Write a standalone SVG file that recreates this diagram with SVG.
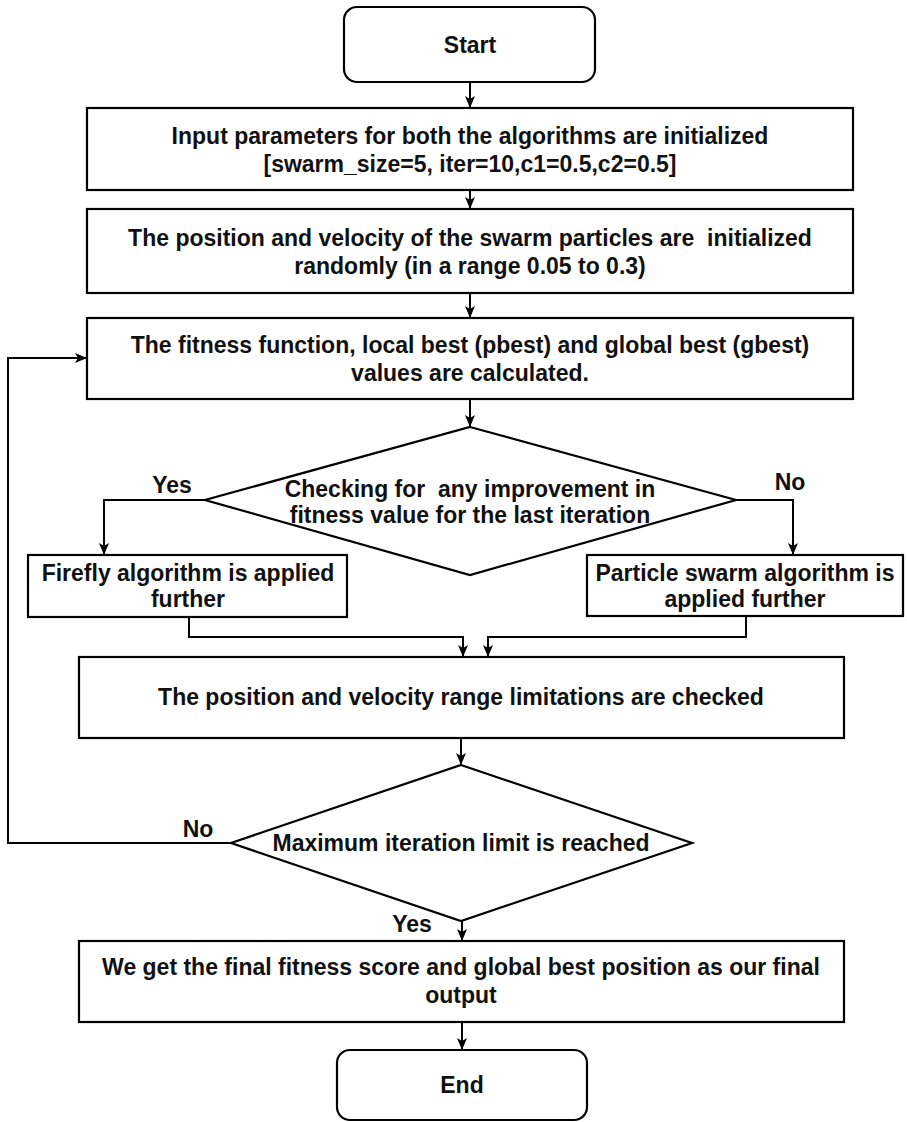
<svg xmlns="http://www.w3.org/2000/svg" width="907" height="1122" viewBox="0 0 907 1122">
<style>
.box{fill:#fff;stroke:#000;stroke-width:2.2}
.t{font-family:"Liberation Sans",Arial,sans-serif;font-weight:bold;font-size:23px;fill:#111;text-anchor:middle;white-space:pre}
.c{fill:none;stroke:#000;stroke-width:2}
</style>
<defs>
<marker id="ah" viewBox="0 0 12 10" refX="11" refY="5" markerWidth="12" markerHeight="10" markerUnits="userSpaceOnUse" orient="auto">
<path d="M0,0 L12,5 L0,10 L3,5 z" fill="#000"/>
</marker>
</defs>
<rect width="907" height="1122" fill="#fff"/>
<g id="connectors">
<path class="c" d="M470,82 V107" marker-end="url(#ah)"/>
<path class="c" d="M470,190 V208" marker-end="url(#ah)"/>
<path class="c" d="M470,293 V317" marker-end="url(#ah)"/>
<path class="c" d="M470,399 V426" marker-end="url(#ah)"/>
<path class="c" d="M205,500 H104 V554" marker-end="url(#ah)"/>
<path class="c" d="M736,500 H793 V554" marker-end="url(#ah)"/>
<path class="c" d="M189,617 V637 H463 V656" marker-end="url(#ah)"/>
<path class="c" d="M746,616 V637 H488 V656" marker-end="url(#ah)"/>
<path class="c" d="M461,738 V764" marker-end="url(#ah)"/>
<path class="c" d="M231,843 H8 V358 H86" marker-end="url(#ah)"/>
<path class="c" d="M462,921 V940" marker-end="url(#ah)"/>
<path class="c" d="M462,1022 V1049" marker-end="url(#ah)"/>
<text class="t" x="172" y="493">Yes</text>
<text class="t" x="790" y="490">No</text>
<text class="t" x="198" y="837">No</text>
<text class="t" x="412" y="932">Yes</text>
</g>
<g id="start">
<rect class="box" x="344" y="7" width="251" height="75" rx="13"/>
<text class="t" x="470" y="53">Start</text>
</g>
<g id="init-params">
<rect class="box" x="87" y="108" width="766" height="82"/>
<text class="t" x="470" y="144">Input parameters for both the algorithms are initialized</text>
<text class="t" x="470" y="172">[swarm_size=5, iter=10,c1=0.5,c2=0.5]</text>
</g>
<g id="init-position">
<rect class="box" x="87" y="209" width="766" height="84"/>
<text class="t" x="470" y="246" xml:space="preserve">The position and velocity of the swarm particles are  initialized</text>
<text class="t" x="470" y="274">randomly (in a range 0.05 to 0.3)</text>
</g>
<g id="fitness">
<rect class="box" x="87" y="318" width="766" height="81"/>
<text class="t" x="470" y="353">The fitness function, local best (pbest) and global best (gbest)</text>
<text class="t" x="470" y="381">values are calculated.</text>
</g>
<g id="check-improvement">
<polygon class="box" points="470,427 736,500 470,575 205,500"/>
<text class="t" x="470" y="497" xml:space="preserve">Checking for  any improvement in</text>
<text class="t" x="470" y="523">fitness value for the last iteration</text>
</g>
<g id="firefly">
<rect class="box" x="28" y="555" width="319" height="62"/>
<text class="t" x="188" y="581">Firefly algorithm is applied</text>
<text class="t" x="188" y="607">further</text>
</g>
<g id="pso">
<rect class="box" x="587" y="555" width="316" height="61"/>
<text class="t" x="745" y="581">Particle swarm algorithm is</text>
<text class="t" x="745" y="607">applied further</text>
</g>
<g id="range-check">
<rect class="box" x="79" y="657" width="765" height="81"/>
<text class="t" x="461" y="705">The position and velocity range limitations are checked</text>
</g>
<g id="max-iter">
<polygon class="box" points="461,765 692,843 461,921 231,843"/>
<text class="t" x="461" y="851">Maximum iteration limit is reached</text>
</g>
<g id="final-output">
<rect class="box" x="79" y="941" width="765" height="81"/>
<text class="t" x="461" y="975">We get the final fitness score and global best position as our final</text>
<text class="t" x="461" y="1003">output</text>
</g>
<g id="end">
<rect class="box" x="337" y="1050" width="250" height="70" rx="13"/>
<text class="t" x="462" y="1093">End</text>
</g>
</svg>
